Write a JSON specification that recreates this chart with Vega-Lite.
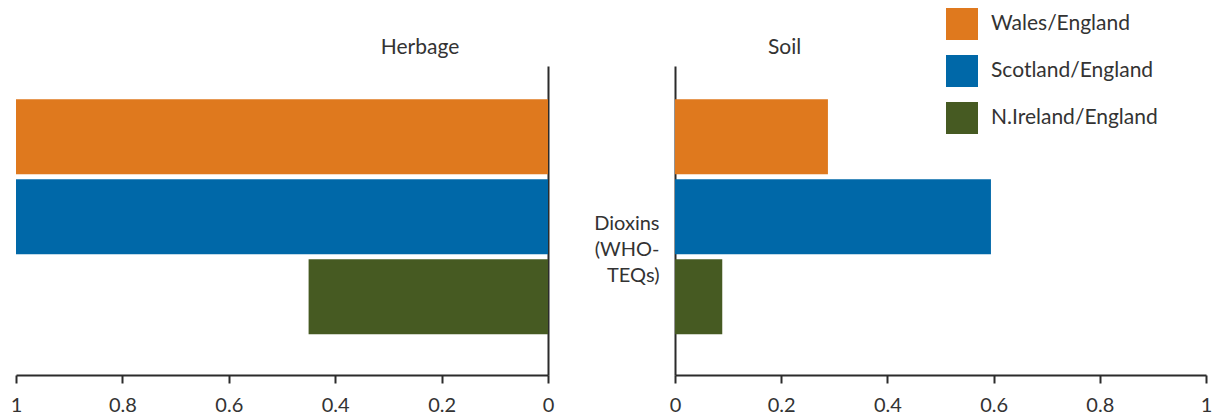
{
  "$schema": "https://vega.github.io/schema/vega-lite/v6.json",
  "autosize": {"type": "pad"},
  "padding": {"left": 10, "top": 8, "right": 0, "bottom": 0},
  "bounds": "flush",
  "spacing": 127,
  "background": "white",
  "config": {
    "font": "Lato",
    "view": {"stroke": null},
    "axis": {
      "domainColor": "#2b2b2b",
      "domainWidth": 2,
      "tickColor": "#2b2b2b",
      "tickWidth": 2,
      "labelColor": "#333333",
      "labelFont": "Lato",
      "labelFontSize": 20,
      "grid": false
    },
    "title": {"font": "Lato", "fontSize": 21, "fontWeight": "normal", "color": "#333333"},
    "legend": {"labelFont": "Lato", "labelFontSize": 21, "labelColor": "#333333", "labelLimit": 300}
  },
  "data": {
    "values": [
      {"panel": "Herbage", "pollutant": "Dioxins (WHO-TEQs)", "comparison": "Wales/England", "value": 1.0},
      {"panel": "Herbage", "pollutant": "Dioxins (WHO-TEQs)", "comparison": "Scotland/England", "value": 1.0},
      {"panel": "Herbage", "pollutant": "Dioxins (WHO-TEQs)", "comparison": "N.Ireland/England", "value": 0.45},
      {"panel": "Soil", "pollutant": "Dioxins (WHO-TEQs)", "comparison": "Wales/England", "value": 0.288},
      {"panel": "Soil", "pollutant": "Dioxins (WHO-TEQs)", "comparison": "Scotland/England", "value": 0.595},
      {"panel": "Soil", "pollutant": "Dioxins (WHO-TEQs)", "comparison": "N.Ireland/England", "value": 0.089}
    ]
  },
  "hconcat": [
    {
      "width": 532,
      "height": 309,
      "title": {"text": "Herbage", "anchor": "middle", "dx": 138, "dy": 22, "offset": 13, "baseline": "alphabetic"},
      "transform": [{"filter": "datum.panel === 'Herbage'"}],
      "mark": {"type": "bar"},
      "encoding": {
        "x": {
          "field": "value", "type": "quantitative",
          "scale": {"domain": [0, 1], "reverse": true, "nice": false},
          "axis": {"title": null, "values": [0, 0.2, 0.4, 0.6, 0.8, 1], "format": "~g", "tickSize": 8, "labelPadding": 12, "labelFlush": false}
        },
        "y": {
          "field": "pollutant", "type": "nominal",
          "scale": {"paddingInner": 0, "paddingOuter": 0},
          "axis": {"orient": "right", "title": null, "labels": false, "ticks": false}
        },
        "yOffset": {
          "field": "comparison", "type": "nominal",
          "scale": {"domain": ["Wales/England", "Scotland/England", "N.Ireland/England"], "paddingInner": 0.0625, "paddingOuter": 0.4625, "align": 0.45}
        },
        "color": {
          "field": "comparison", "type": "nominal",
          "scale": {"domain": ["Wales/England", "Scotland/England", "N.Ireland/England"], "range": ["#DF791E", "#0068A8", "#465A22"]},
          "legend": {
            "title": null, "orient": "none", "legendX": 930, "legendY": -58,
            "symbolType": "square", "symbolSize": 1024, "symbolStrokeWidth": 0, "symbolOpacity": 1,
            "rowPadding": 15, "labelOffset": 13, "padding": 0, "labelLimit": 300
          }
        }
      }
    },
    {
      "width": 531,
      "height": 309,
      "title": {"text": "Soil", "anchor": "middle", "dx": -156, "dy": 22, "offset": 13, "baseline": "alphabetic"},
      "transform": [{"filter": "datum.panel === 'Soil'"}],
      "mark": {"type": "bar"},
      "encoding": {
        "x": {
          "field": "value", "type": "quantitative",
          "scale": {"domain": [0, 1], "nice": false},
          "axis": {"title": null, "values": [0, 0.2, 0.4, 0.6, 0.8, 1], "format": "~g", "tickSize": 8, "labelPadding": 12, "labelFlush": false}
        },
        "y": {
          "field": "pollutant", "type": "nominal",
          "scale": {"paddingInner": 0, "paddingOuter": 0},
          "axis": {
            "orient": "left", "title": null, "ticks": false,
            "labelExpr": "['Dioxins', '(WHO-', 'TEQs)']",
            "labelLineHeight": 26, "labelOffset": 3, "labelPadding": 16, "labelAlign": "right", "labelBaseline": "middle",
            "labelFontSize": 20
          }
        },
        "yOffset": {
          "field": "comparison", "type": "nominal",
          "scale": {"domain": ["Wales/England", "Scotland/England", "N.Ireland/England"], "paddingInner": 0.0625, "paddingOuter": 0.4625, "align": 0.45}
        },
        "color": {
          "field": "comparison", "type": "nominal",
          "scale": {"domain": ["Wales/England", "Scotland/England", "N.Ireland/England"], "range": ["#DF791E", "#0068A8", "#465A22"]}
        }
      }
    }
  ]
}
